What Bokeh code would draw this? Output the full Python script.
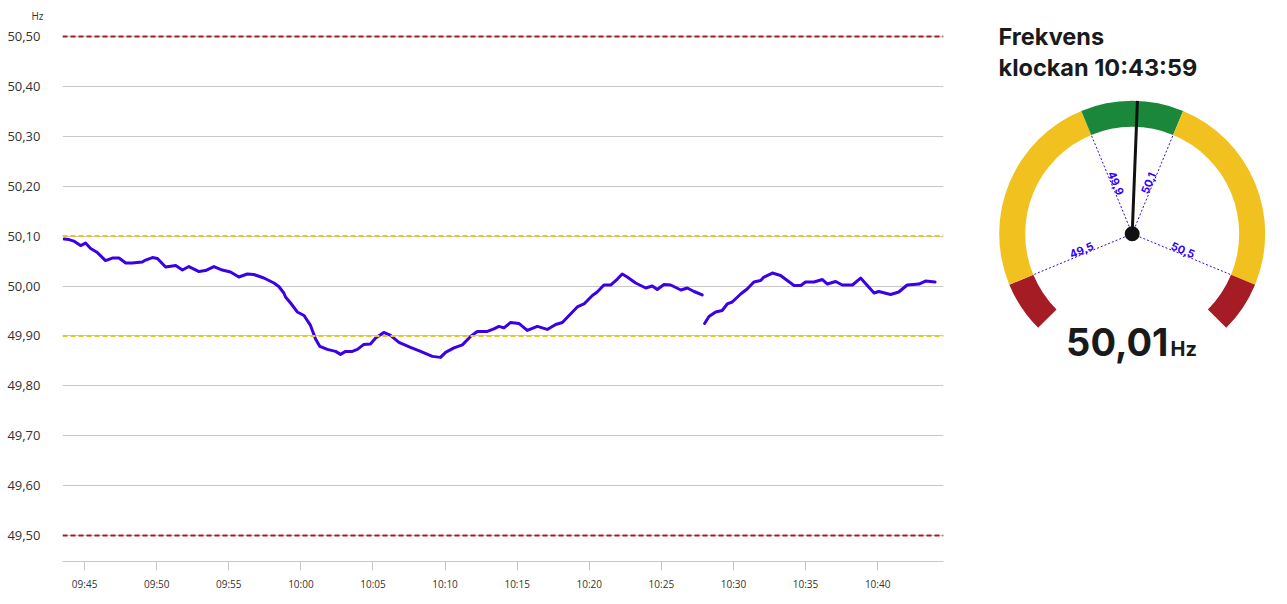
import numpy as np
import pandas as pd
from bokeh.plotting import figure
from bokeh.layouts import row
from bokeh.models import (Range1d, FixedTicker, CustomJSTickFormatter, Span, Title,
                          DatetimeTickFormatter)
from bokeh.core.properties import value
from bokeh.embed import file_html
from bokeh.resources import INLINE

DAY = "2024-01-01 "

seg1_times = ["09:43:35", "09:43:55", "09:44:15", "09:44:43", "09:45:04", "09:45:25", "09:45:53",
              "09:46:27", "09:46:55", "09:47:23", "09:47:51", "09:48:18", "09:49:00", "09:49:14",
              "09:49:42", "09:50:03", "09:50:37", "09:51:19", "09:51:47", "09:52:14", "09:52:56",
              "09:53:23", "09:53:58", "09:54:33", "09:55:07", "09:55:42", "09:56:17", "09:56:44",
              "09:57:26", "09:58:08", "09:58:28", "09:58:49", "09:58:56", "09:59:17", "09:59:45",
              "10:00:13", "10:00:40", "10:01:01", "10:01:19", "10:01:50", "10:02:24", "10:02:45",
              "10:03:06", "10:03:34", "10:03:55", "10:04:22", "10:04:50", "10:05:11", "10:05:45",
              "10:06:13", "10:06:48", "10:07:36", "10:08:18", "10:09:07", "10:09:41", "10:10:02",
              "10:10:37", "10:11:12", "10:11:46", "10:12:14", "10:12:56", "10:13:23", "10:13:44",
              "10:14:05", "10:14:33", "10:15:07", "10:15:42", "10:16:24", "10:17:05", "10:17:40",
              "10:18:08", "10:18:42", "10:19:10", "10:19:38", "10:20:13", "10:20:33", "10:21:01",
              "10:21:29", "10:21:57", "10:22:17", "10:22:38", "10:23:13", "10:23:55", "10:24:22",
              "10:24:43", "10:25:11", "10:25:39", "10:26:21", "10:26:48", "10:27:16", "10:27:50"]
seg1_hz = [50.094, 50.093, 50.090, 50.081, 50.086, 50.075, 50.067,
           50.051, 50.056, 50.056, 50.046, 50.046, 50.048, 50.052,
           50.057, 50.055, 50.038, 50.041, 50.032, 50.039, 50.029,
           50.031, 50.039, 50.032, 50.028, 50.018, 50.024, 50.023,
           50.016, 50.006, 49.999, 49.986, 49.978, 49.966, 49.948,
           49.941, 49.921, 49.894, 49.879, 49.873, 49.869, 49.863,
           49.869, 49.869, 49.873, 49.883, 49.884, 49.896, 49.907,
           49.901, 49.887, 49.877, 49.869, 49.859, 49.857, 49.867,
           49.876, 49.882, 49.899, 49.909, 49.909, 49.914, 49.919,
           49.916, 49.927, 49.925, 49.911, 49.919, 49.913, 49.923,
           49.927, 49.944, 49.958, 49.964, 49.981, 49.988, 50.002,
           50.002, 50.014, 50.024, 50.018, 50.006, 49.996, 50.000,
           49.993, 50.003, 50.002, 49.992, 49.996, 49.989, 49.982]

seg2_times = ["10:28:00", "10:28:18", "10:28:46", "10:29:13", "10:29:34", "10:29:55", "10:30:30",
              "10:30:57", "10:31:25", "10:31:53", "10:32:07", "10:32:42", "10:33:16", "10:33:44",
              "10:34:12", "10:34:40", "10:35:00", "10:35:35", "10:36:10", "10:36:31", "10:37:05",
              "10:37:33", "10:38:15", "10:38:49", "10:39:17", "10:39:45", "10:40:05", "10:40:54",
              "10:41:28", "10:42:03", "10:42:52", "10:43:19", "10:43:59"]
seg2_hz = [49.925, 49.939, 49.948, 49.951, 49.964, 49.968, 49.984,
           49.994, 50.008, 50.011, 50.018, 50.026, 50.021, 50.011,
           50.001, 50.001, 50.008, 50.008, 50.013, 50.004, 50.009,
           50.002, 50.002, 50.016, 50.001, 49.986, 49.989, 49.983,
           49.988, 50.002, 50.004, 50.010, 50.008]

x_tick_labels = ["09:45", "09:50", "09:55", "10:00", "10:05", "10:10",
                 "10:15", "10:20", "10:25", "10:30", "10:35", "10:40"]
y_ticks = [49.5, 49.6, 49.7, 49.8, 49.9, 50.0, 50.1, 50.2, 50.3, 50.4, 50.5]
x_start, x_end = "09:43:28", "10:44:34"
y_start, y_end = 49.448, 50.528

red_limits = [49.5, 50.5]
yellow_limits = [49.9, 50.1]

gauge_min, gauge_max = 49.4, 50.6
gauge_bands_lo = [49.4, 49.5, 49.9, 50.1, 50.5]
gauge_bands_hi = [49.5, 49.9, 50.1, 50.5, 50.6]
gauge_marks = [49.5, 49.9, 50.1, 50.5]
current_hz = 50.01
current_time = "10:43:59"

RED = "#a51c24"
YELLOW = "#f1c21f"
GREEN = "#1b873b"
LINE = "#3a00e6"
MARK = "#3300ff"
TXT = "#333333"
FONT = "Open Sans"
GFONT = "Inter"
H = 596
TOP, BOTTOM = 22, 35


def ts(t):
    return pd.Timestamp(DAY + t)


def ms(t):
    return ts(t).value // 10**6


def base(y, size):
    # compensate the renderer's baseline offset for the given font size (px)
    return y + 0.4 * size


# ---------------- line chart ----------------
p1 = figure(width=960, height=H, x_axis_type="datetime", output_backend="svg",
            toolbar_location=None, tools="",
            x_range=Range1d(ts(x_start), ts(x_end)), y_range=Range1d(y_start, y_end),
            min_border_left=62, min_border_right=17, min_border_top=TOP,
            min_border_bottom=BOTTOM)
p1.outline_line_color = None
p1.background_fill_color = "white"
p1.border_fill_color = "white"

p1.xgrid.grid_line_color = None
p1.ygrid.grid_line_color = "#c8c8c8"
p1.ygrid.grid_line_width = 1

yax = p1.yaxis[0]
yax.ticker = FixedTicker(ticks=y_ticks)
yax.formatter = CustomJSTickFormatter(code="return tick.toFixed(2).replace('.', ',');")
yax.axis_line_color = None
yax.major_tick_line_color = None
yax.minor_tick_line_color = None
yax.major_label_standoff = 16
yax.major_label_text_font = FONT
yax.major_label_text_font_size = "13px"
yax.major_label_text_color = TXT
p1.ygrid.ticker = FixedTicker(ticks=y_ticks)

xax = p1.xaxis[0]
xax.ticker = FixedTicker(ticks=[ms(t + ":00") for t in x_tick_labels])
xax.formatter = DatetimeTickFormatter(minsec="%H:%M", minutes="%H:%M", hourmin="%H:%M",
                                      hours="%H:%M", seconds="%H:%M")
xax.axis_line_color = "#c8c8c8"
xax.major_tick_line_color = "#c8c8c8"
xax.major_tick_out = 9
xax.major_tick_in = 0
xax.minor_tick_line_color = None
xax.major_label_standoff = 6
xax.major_label_text_font = FONT
xax.major_label_text_font_size = "10px"
xax.major_label_text_color = TXT

for lv in red_limits:
    p1.add_layout(Span(location=lv, dimension="width", line_color=RED,
                       line_dash="5 3", line_width=2))
for lv in yellow_limits:
    p1.add_layout(Span(location=lv, dimension="width", line_color=YELLOW,
                       line_dash="5 3", line_width=2))

p1.line([ts(t) for t in seg1_times], seg1_hz, line_color=LINE, line_width=3,
        line_join="round", line_cap="round")
p1.line([ts(t) for t in seg2_times], seg2_hz, line_color=LINE, line_width=3,
        line_join="round", line_cap="round")

p1.add_layout(Title(text="Hz", align="left", offset=-31, standoff=0,
                    text_font=FONT, text_font_size="10px", text_font_style="normal",
                    text_color=TXT), "above")

# ---------------- gauge ----------------
# data units equal page pixels: y = H - page_y, x = page_x - 960
GW = 319
p2 = figure(width=GW, height=H, output_backend="svg", toolbar_location=None, tools="",
            x_range=Range1d(0, GW), y_range=Range1d(BOTTOM, H - TOP),
            min_border_left=0, min_border_right=0, min_border_top=TOP,
            min_border_bottom=BOTTOM)
p2.axis.visible = False
p2.grid.grid_line_color = None
p2.outline_line_color = None
p2.background_fill_color = "white"
p2.border_fill_color = "white"

cx, cy = 171.7, 362.7
r_in, r_out, r_lab = 107, 133, 53
deg_per_hz = 270.0 / (gauge_max - gauge_min)
mid = (gauge_min + gauge_max) / 2


def ang(v):
    return np.deg2rad(90 - (v - mid) * deg_per_hz)


band_colors = [RED, YELLOW, GREEN, YELLOW, RED]
p2.annular_wedge(x=cx, y=cy, inner_radius=r_in, outer_radius=r_out,
                 start_angle=[ang(b) for b in gauge_bands_hi],
                 end_angle=[ang(a) for a in gauge_bands_lo],
                 direction="anticlock", fill_color=band_colors, line_color=None)

ma = np.array([ang(v) for v in gauge_marks])
p2.segment(x0=cx, y0=cy, x1=cx + r_in * np.cos(ma), y1=cy + r_in * np.sin(ma),
           line_color=MARK, line_width=1, line_dash="2 2")
lab_ang = np.array([a - np.pi if a > np.pi / 2 else a for a in ma])
lab_off = 0.4 * 11
p2.text(x=cx + r_lab * np.cos(ma) - lab_off * np.sin(lab_ang),
        y=cy + r_lab * np.sin(ma) + lab_off * np.cos(lab_ang),
        text=[f"{v:.1f}".replace(".", ",") for v in gauge_marks], angle=lab_ang,
        text_align="center", text_baseline="alphabetic", text_color=MARK,
        text_font=value(GFONT), text_font_style="bold", text_font_size="11px")

na = ang(current_hz)
p2.segment(x0=cx, y0=cy, x1=cx + r_out * np.cos(na), y1=cy + r_out * np.sin(na),
           line_color="#111111", line_width=3)
p2.scatter(x=[cx], y=[cy], size=15, fill_color="#111111", line_color=None)

p2.text(x=[38, 38], y=[base(551, 23.5), base(519.3, 23.5)],
        text=["Frekvens", f"klockan {current_time}"],
        text_align="left", text_baseline="alphabetic", text_color="#1a1a1a",
        text_font=value(GFONT), text_font_style="bold", text_font_size="23.5px")

p2.text(x=[208], y=[base(239.3, 38)], text=[f"{current_hz:.2f}".replace(".", ",")],
        text_align="right", text_baseline="alphabetic", text_color="#1a1a1a",
        text_font=value(GFONT), text_font_style="bold", text_font_size="38px")
p2.text(x=[210], y=[base(239.3, 20)], text=["Hz"],
        text_align="left", text_baseline="alphabetic", text_color="#1a1a1a",
        text_font=value(GFONT), text_font_style="bold", text_font_size="20px")

layout = row(p1, p2, spacing=0)
open("out.html", "w").write(file_html(layout, INLINE))
